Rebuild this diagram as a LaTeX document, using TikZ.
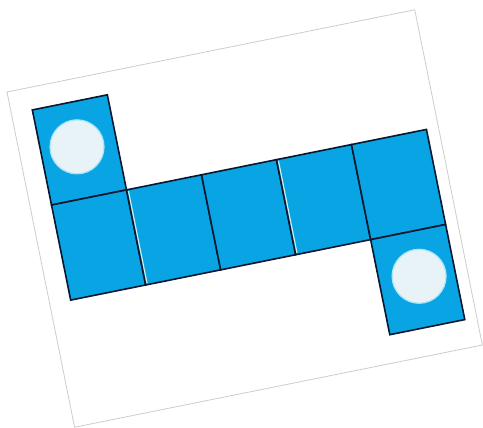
\documentclass[tikz,border=0pt]{standalone}
\definecolor{netblue}{RGB}{8,164,228}
\definecolor{edge}{RGB}{12,22,45}
\definecolor{dot}{RGB}{232,243,248}
\definecolor{dotrim}{RGB}{170,228,248}
\definecolor{sheetline}{RGB}{205,205,205}
\definecolor{paleline}{RGB}{215,240,230}
\tikzset{
  face/.style={fill=netblue, draw=edge, line width=1.6pt, line join=miter},
  spot/.style={fill=dot, draw=dotrim, line width=1.2pt},
  sheet/.style={fill=white, draw=sheetline, line width=0.8pt},
  seam/.style={draw=paleline, line width=1.1pt}
}
\begin{document}
\begin{tikzpicture}[x=1pt,y=-1pt]
\useasboundingbox (0,0) rectangle (483,428);
\begin{scope}[shift={(7,92)}, rotate=11.4]
  % sheet
  \draw[sheet] (0,0) rectangle (416,342);
  \begin{scope}[shift={(21.3,22.6)}]
    \def\w{76.5}
    \def\h{97}
    % faces
    \draw[face] (0,0) rectangle (\w,\h);
    \foreach \i in {0,...,4} {
      \draw[face] (\i*\w,\h) rectangle ({(\i+1)*\w},2*\h);
    }
    \draw[face] (4*\w,2*\h) rectangle (5*\w,3*\h);
    % pale seams beside two dividers
    \draw[seam] ({\w+1.7},{\h+1.5}) -- ({\w+1.7},{2*\h-1.5});
    \draw[seam] ({3*\w+1.7},{\h+1.5}) -- ({3*\w+1.7},{2*\h-1.5});
    % spots
    \node[spot, circle, minimum size=54pt, inner sep=0pt] (s1) at (36.5,45) {};
    \node[spot, circle, minimum size=54pt, inner sep=0pt] (s2) at ({4.5*\w+2},{2.5*\h-3}) {};
  \end{scope}
\end{scope}
\end{tikzpicture}
\end{document}
